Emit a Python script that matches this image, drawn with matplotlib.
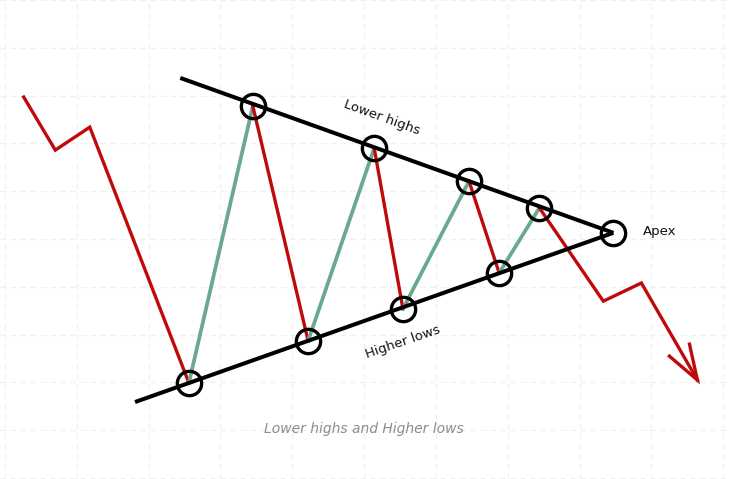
import matplotlib
matplotlib.use("Agg")
import matplotlib.pyplot as plt

# ---- data (grid units: x = time, y = price) ----
lead_x = [0.26, 0.70, 1.18, 2.56]
lead_y = [7.97, 6.86, 7.34, 1.99]

high_x = [3.45, 5.14, 6.46, 7.44]
high_y = [7.78, 6.90, 6.21, 5.65]
low_x = [2.56, 4.22, 5.54, 6.88]
low_y = [1.99, 2.87, 3.54, 4.29]

apex_x, apex_y = 8.47, 5.13
upper_start = (2.44, 8.37)
lower_start = (1.81, 1.59)

break_x = [7.44, 8.33, 8.86, 9.64]
break_y = [5.65, 3.70, 4.08, 2.05]
arrow_wing_x = [9.25, 9.64, 9.53]
arrow_wing_y = [2.55, 2.05, 2.80]

labels = {"upper": "Lower highs", "lower": "Higher lows", "apex": "Apex",
          "caption": "Lower highs and Higher lows"}

RED = "#c00a0a"
GREEN = "#6aa98f"

fig = plt.figure(figsize=(7.29, 4.79), dpi=100)
ax = fig.add_axes([0, 0, 1, 1])
ax.set_xlim(-0.07, 10.08)
ax.set_ylim(-0.02, 10.0)
ax.set_xticks(range(0, 11))
ax.set_yticks(range(0, 11))
ax.grid(True, color="#edf1f1", linestyle=(0, (5, 4)), linewidth=0.8)
ax.tick_params(length=0, labelbottom=False, labelleft=False)
for s in ax.spines.values():
    s.set_visible(False)

# trend lines
ax.plot([upper_start[0], apex_x], [upper_start[1], apex_y], color="black", lw=2.9,
        solid_capstyle="butt", zorder=3)
ax.plot([lower_start[0], apex_x], [lower_start[1], apex_y], color="black", lw=2.9,
        solid_capstyle="butt", zorder=3)

# lead-in red
ax.plot(lead_x, lead_y, color=RED, lw=2.4, zorder=2, solid_joinstyle="miter")

# zigzag
for i in range(4):
    ax.plot([low_x[i], high_x[i]], [low_y[i], high_y[i]], color=GREEN, lw=2.7, zorder=2)
    if i < 3:
        ax.plot([high_x[i], low_x[i + 1]], [high_y[i], low_y[i + 1]], color=RED, lw=2.4, zorder=2)

# breakdown
ax.plot(break_x, break_y, color=RED, lw=2.4, zorder=2, solid_joinstyle="miter")
ax.plot(arrow_wing_x, arrow_wing_y, color=RED, lw=2.4, zorder=2, solid_joinstyle="miter")

# circles
cx = high_x + low_x + [apex_x]
cy = high_y + low_y + [apex_y]
ax.plot(cx, cy, linestyle="none", marker="o", markersize=17.5, markerfacecolor="none",
        markeredgecolor="black", markeredgewidth=2.4, zorder=4)

font = ["DejaVu Sans"]
ax.text(5.25, 7.55, labels["upper"], rotation=-20, ha="center", va="center",
        fontsize=9.5, family=font, color="#111111")
ax.text(5.54, 2.84, labels["lower"], rotation=19, ha="center", va="center",
        fontsize=9.5, family=font, color="#111111")
ax.text(8.88, 5.15, labels["apex"], ha="left", va="center", fontsize=9.5, family=font,
        color="#111111")
ax.text(5.0, 1.03, labels["caption"], ha="center", va="center", fontsize=10,
        family=font, style="italic", color="#8c8c8c")

fig.savefig("out.png", dpi=100, facecolor="white")
